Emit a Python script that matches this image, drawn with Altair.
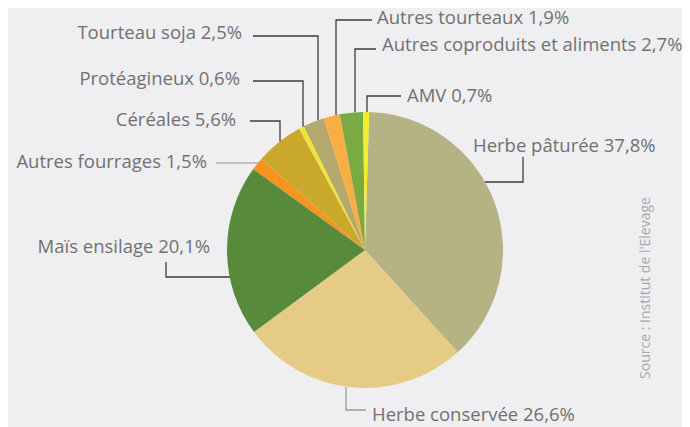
import math
import altair as alt
import pandas as pd

# ---- data ----
names = ["Herbe pâturée", "Herbe conservée", "Maïs ensilage", "Autres fourrages",
         "Céréales", "Protéagineux", "Tourteau soja", "Autres tourteaux",
         "Autres coproduits et aliments", "AMV"]
values = [37.8, 26.6, 20.1, 1.5, 5.6, 0.6, 2.5, 1.9, 2.7, 0.7]
colors = ["#b5b283", "#e5cb86", "#578a3b", "#f7941d", "#c9a82b",
          "#f0e43a", "#b4a86c", "#f9ad43", "#79ab42", "#f6ec2b"]
source_text = "Source : Institut de l'Elevage"

# ---- layout (page pixels) ----
W, H = 674, 419
CX, CY, R = 365, 250, 138
ROT = 0.03  # small rotation of the pie (radians)
FONT = "Open Sans"
FS = 18.5


def top_y(x):
    return CY - math.sqrt(R * R - (x - CX) ** 2)


# text x, text baseline y, align, leader points, leader colour
layout = {
    "Herbe pâturée": (473, 152, "left", [(485, 182), (523, 182), (523, 157)], "#3d3d3d"),
    "Herbe conservée": (372, 421, "left", [(346, 387), (346, 410), (366, 410)], "#9a9a9a"),
    "Maïs ensilage": (210, 253, "right", [(166, 262), (166, 277), (230, 277)], "#3d3d3d"),
    "Autres fourrages": (207, 168, "right", [(216, 163), (259, 163)], "#b0b0b0"),
    "Céréales": (236, 126, "right", [(250, 121), (280, 121), (280, top_y(280))], "#3d3d3d"),
    "Protéagineux": (240, 85, "right", [(253, 81), (303, 81), (303, top_y(303))], "#3d3d3d"),
    "Tourteau soja": (242, 39, "right", [(253, 36), (318, 36), (318, top_y(318))], "#3d3d3d"),
    "Autres tourteaux": (377, 24, "left", [(372, 20), (336, 20), (336, top_y(336))], "#3d3d3d"),
    "Autres coproduits et aliments": (382, 51, "left", [(376, 49), (355, 49), (355, top_y(355))], "#3d3d3d"),
    "AMV": (407, 102, "left", [(401, 96), (367, 96), (367, top_y(367))], "#3d3d3d"),
}

pie_df = pd.DataFrame({"name": names, "value": values, "idx": range(len(names))})

lab_rows, line_rows = [], []
for n, v in zip(names, values):
    tx, ty, al, pts, col = layout[n]
    lab_rows.append({"name": n, "label": f"{n} {v:.1f}%".replace(".", ","),
                     "x": tx, "y": ty, "align": al})
    for i, (px, py) in enumerate(pts):
        line_rows.append({"name": n, "i": i, "x": px, "y": py, "stroke": col})
lab_df = pd.DataFrame(lab_rows)
line_df = pd.DataFrame(line_rows)

xs = alt.Scale(domain=[8, 8 + W], range=[0, W])
ys = alt.Scale(domain=[8, 8 + H], range=[0, H])

# soft shadow
shadow_df = pd.DataFrame({"r": [128, 132, 136, 139, 142, 145, 148, 151]})
shadow = alt.Chart(shadow_df).mark_arc(theta=0, theta2=2 * math.pi, color="#2e3350").encode(
    x=alt.value(CX - 8 + 6), y=alt.value(CY - 8 + 6),
    radius=alt.Radius("r:Q", scale=None),
    opacity=alt.value(0.08),
)

pie = alt.Chart(pie_df).mark_arc(radius=R).encode(
    theta=alt.Theta("value:Q", stack=True,
                    scale=alt.Scale(range=[ROT, ROT + 2 * math.pi])),
    color=alt.Color("name:N", scale=alt.Scale(domain=names, range=colors), legend=None),
    order=alt.Order("idx:Q"),
    x=alt.value(CX - 8), y=alt.value(CY - 8),
)

lines = alt.Chart(line_df).mark_line(strokeWidth=1.3).encode(
    x=alt.X("x:Q", scale=xs, axis=None),
    y=alt.Y("y:Q", scale=ys, axis=None),
    detail="name:N",
    order="i:Q",
    color=alt.Color("stroke:N", scale=None),
)

left_lab = alt.Chart(lab_df[lab_df["align"] == "left"]).mark_text(
    align="left", baseline="alphabetic", font=FONT, fontSize=FS, color="#707173"
).encode(x=alt.X("x:Q", scale=xs, axis=None), y=alt.Y("y:Q", scale=ys, axis=None), text="label:N")

right_lab = alt.Chart(lab_df[lab_df["align"] == "right"]).mark_text(
    align="right", baseline="alphabetic", font=FONT, fontSize=FS, color="#707173"
).encode(x=alt.X("x:Q", scale=xs, axis=None), y=alt.Y("y:Q", scale=ys, axis=None), text="label:N")

src = alt.Chart(pd.DataFrame({"t": [source_text], "x": [646], "y": [288]})).mark_text(
    angle=270, align="center", baseline="middle", font=FONT, fontSize=14, color="#a7a9ac"
).encode(x=alt.X("x:Q", scale=xs, axis=None), y=alt.Y("y:Q", scale=ys, axis=None), text="t:N")

chart = alt.layer(shadow, pie, lines, left_lab, right_lab, src).properties(
    width=W, height=H, padding=0, autosize=alt.AutoSizeParams(type="none"),
    background="white",
).configure_view(stroke=None)

chart.save("out.html", embed_options={"renderer": "svg", "actions": False})
